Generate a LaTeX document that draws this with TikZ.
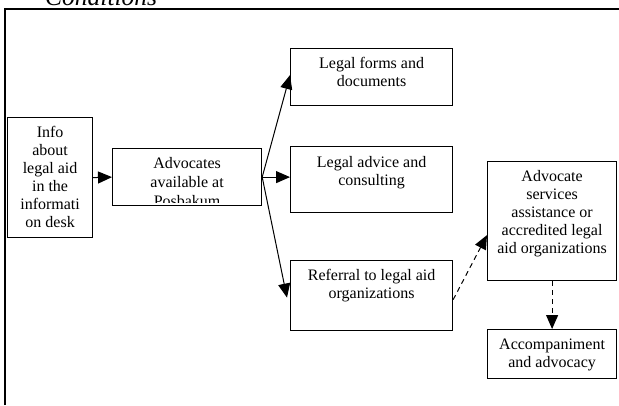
\documentclass[tikz,border=0pt]{standalone}
\usepackage{fontspec}
\setmainfont{Liberation Serif}
\usetikzlibrary{arrows.meta}

\definecolor{flowLine}{RGB}{0,0,0}

\tikzset{
  flowbox/.style={draw=flowLine, line width=1.2pt, anchor=north west, inner sep=0pt},
  flowtext/.style={anchor=north, inner sep=0pt, align=center, font=\fontsize{16}{18}\selectfont},
  flowarrow/.style={draw=flowLine, line width=1pt, -{Triangle[length=14pt,width=12pt]}},
  flowdash/.style={flowarrow, dash pattern=on 5pt off 4pt},
}

\begin{document}
\begin{tikzpicture}[x=1pt, y=-1pt]
  \useasboundingbox (0,0) rectangle (619,405);
  \node[anchor=base west, inner sep=0pt, font=\fontsize{25.5}{28}\selectfont\itshape] (title) at (45,5) {Conditions};
  \draw[line width=1.8pt, draw=flowLine] (5,405) -- (5,9) -- (619,9);
  % boxes
  \node[flowbox, minimum width=85pt, minimum height=120pt] (info) at (7,117) {};
  \node[flowtext] (infotext) at ([yshift=-9pt]info.north) {Info\\about\\legal aid\\in the\\informati\\on desk};
  \node[flowbox, minimum width=149pt, minimum height=57pt] (adv) at (112,148) {};
  \begin{scope}
    \clip (adv.north west) rectangle ([yshift=4pt]adv.south east);
    \node[flowtext, font=\fontsize{16}{19}\selectfont] (advtext) at ([yshift=-9.5pt]adv.north) {Advocates\\available at\\Posbakum};
  \end{scope}
  \node[flowbox, minimum width=162pt, minimum height=57pt] (forms) at (290,48) {};
  \node[flowtext] (formstext) at ([yshift=-9pt]forms.north) {Legal forms and\\documents};
  \node[flowbox, minimum width=162pt, minimum height=66pt] (advice) at (290,146) {};
  \node[flowtext] (advicetext) at ([yshift=-10pt]advice.north) {Legal advice and\\consulting};
  \node[flowbox, minimum width=162pt, minimum height=70pt] (referral) at (290,260) {};
  \node[flowtext] (referraltext) at ([yshift=-9pt]referral.north) {Referral to legal aid\\organizations};
  \node[flowbox, minimum width=129pt, minimum height=119pt] (services) at (487,161) {};
  \node[flowtext] (servicestext) at ([yshift=-9pt]services.north) {Advocate\\services\\assistance or\\accredited legal\\aid organizations};
  \node[flowbox, minimum width=129pt, minimum height=49pt] (accomp) at (487,329) {};
  \node[flowtext] (accomptext) at ([yshift=-10pt]accomp.north) {Accompaniment\\and advocacy};
  % connectors
  \draw[flowarrow] (info.east) -- (adv.west);
  \draw[flowarrow] (adv.east) -- ([yshift=2pt]forms.west);
  \draw[flowarrow] (adv.east) -- (adv.east -| advice.west);
  \draw[flowarrow] (adv.east) -- ([xshift=-3pt,yshift=-2pt]referral.west);
  \draw[flowdash] ([yshift=-4pt]referral.east) -- ([yshift=-14pt]services.west);
  \draw[flowdash] (services.south) -- (accomp.north);
\end{tikzpicture}
\end{document}
